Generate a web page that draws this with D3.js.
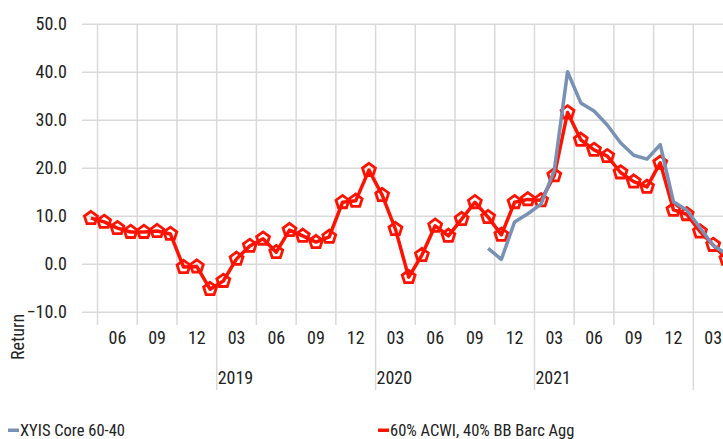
<!DOCTYPE html>
<html>
<head>
<meta charset="utf-8">
<script src="https://cdn.jsdelivr.net/npm/d3@7"></script>
<style>
  body { margin: 0; background: #fff; }
  text { font-family: "Liberation Sans Narrow", "Arial Narrow", "Roboto Condensed", Roboto, sans-serif; fill: #222; }
</style>
</head>
<body>
<div id="chart"></div>
<script>
// categories: month ends, Mar 2018 .. Mar 2022
const months = d3.timeMonth.range(new Date(2018, 2, 1), new Date(2022, 3, 1))

// rolling returns (%)
const benchValues = [
  9.5, 8.7, 7.4, 6.6, 6.6, 6.8, 6.2, -0.7, -0.6, -5.3, -3.6, 1.0, 3.7, 5.2, 2.4, 7.0, 5.8,
  4.5, 5.6, 12.8, 13.1, 19.5, 14.3, 7.2, -2.8, 1.8, 7.9, 5.8, 9.3, 12.8, 9.7, 6.0, 12.8,
  13.4, 13.2, 18.4, 31.5, 25.8, 23.7, 22.4, 19.0, 17.1, 16.0, 21.0, 11.2, 10.3, 6.7, 3.9, 1.0,
]
// XYIS series starts Sep 2020
const fundStart = 30
const fundValues = [
  3.2, 0.9, 8.7, 10.4, 12.4, 19.5, 40.0, 33.5, 31.8, 28.9, 25.2, 22.6, 21.8, 24.8, 12.9,
  11.2, 7.5, 3.8, 2.0,
]
const yTicks = [-10, 0, 10, 20, 30, 40, 50]
const seriesNames = ['XYIS Core 60-40', '60% ACWI, 40% BB Barc Agg']
const colors = ['#7891b5', '#ff1200']

const width = 723
const height = 439
const plot = { left: 82, top: 23.7, bottom: 311.7 }

const svg = d3
  .select('#chart')
  .append('svg')
  .attr('width', width)
  .attr('height', height)

const x = d3
  .scaleBand()
  .domain(months)
  .range([84.3, 84.3 + months.length * 13.24])

const y = d3.scaleLinear().domain([-10, 50]).range([plot.bottom, plot.top])

const cx = (d) => x(d) + x.bandwidth() / 2

// horizontal gridlines + y labels
const yAxis = svg
  .append('g')
  .attr('transform', `translate(${plot.left},0)`)
  .call(
    d3
      .axisLeft(y)
      .tickValues(yTicks)
      .tickFormat(d3.format('.1f'))
      .tickSize(-(width - plot.left))
      .tickPadding(15)
  )
yAxis.select('.domain').remove()
yAxis.selectAll('line').attr('stroke', '#d9d9d9').attr('stroke-width', 1.5)
yAxis.selectAll('text').style('font-size', '18px').attr('fill', '#222')

// vertical gridlines at quarter boundaries (Apr, Jul, Oct, Jan)
const boundaries = months.filter((m, i) => i > 0 && m.getMonth() % 3 === 0)
svg
  .append('g')
  .selectAll('line')
  .data(boundaries)
  .join('line')
  .attr('x1', (d) => x(d))
  .attr('x2', (d) => x(d))
  .attr('y1', plot.top)
  .attr('y2', (d) => (d.getMonth() === 0 ? 390 : 325))
  .attr('stroke', '#d9d9d9')
  .attr('stroke-width', 1.5)

// quarter labels, centred on each 3-month group
const mids = months.filter((m, i) => i > 0 && m.getMonth() % 3 === 1)
svg
  .append('g')
  .selectAll('text')
  .data(mids)
  .join('text')
  .attr('x', (d) => cx(d))
  .attr('y', 344)
  .attr('text-anchor', 'middle')
  .style('font-size', '18px')
  .text((d) => d3.format('02')(d.getMonth() + 2))

// year labels
svg
  .append('g')
  .selectAll('text')
  .data(boundaries.filter((d) => d.getMonth() === 0 && d.getFullYear() < 2022))
  .join('text')
  .attr('x', (d) => x(d) + 1)
  .attr('y', 384)
  .style('font-size', '18px')
  .text((d) => d.getFullYear())

// y axis title
svg
  .append('text')
  .attr('transform', 'translate(24,337) rotate(-90)')
  .attr('text-anchor', 'middle')
  .style('font-size', '18px')
  .text('Return')

const line = d3
  .line()
  .x((d) => cx(d.date))
  .y((d) => y(d.value))

const bench = benchValues.map((v, i) => ({ date: months[i], value: v }))
const fund = fundValues.map((v, i) => ({ date: months[fundStart + i], value: v }))

// benchmark line + pentagon markers
svg
  .append('path')
  .datum(bench)
  .attr('d', line)
  .attr('fill', 'none')
  .attr('stroke', colors[1])
  .attr('stroke-width', 3.5)
  .attr('stroke-linejoin', 'round')

const r = 6.8
const pentagon =
  d3
    .range(5)
    .map((k) => {
      const a = -Math.PI / 2 + (k * 2 * Math.PI) / 5
      return [r * Math.cos(a), r * Math.sin(a)]
    })
    .map((p, k) => (k ? 'L' : 'M') + p[0].toFixed(2) + ',' + p[1].toFixed(2))
    .join('') + 'Z'

svg
  .append('g')
  .selectAll('path')
  .data(bench)
  .join('path')
  .attr('transform', (d) => `translate(${cx(d.date)},${y(d.value)})`)
  .attr('d', pentagon)
  .attr('fill', 'none')
  .attr('stroke', colors[1])
  .attr('stroke-width', 2.8)
  .attr('stroke-linejoin', 'miter')

// fund line on top
svg
  .append('path')
  .datum(fund)
  .attr('d', line)
  .attr('fill', 'none')
  .attr('stroke', colors[0])
  .attr('stroke-width', 3.5)
  .attr('stroke-linejoin', 'round')

// legend
const legendX = [8, 378]
const legend = svg
  .append('g')
  .selectAll('g')
  .data(seriesNames)
  .join('g')
  .attr('transform', (d, i) => `translate(${legendX[i]},0)`)

legend
  .append('rect')
  .attr('x', 0)
  .attr('y', 428.5)
  .attr('width', 11)
  .attr('height', 3.5)
  .attr('fill', (d, i) => colors[i])

legend
  .append('text')
  .attr('x', 12)
  .attr('y', 435.5)
  .style('font-size', '16.5px')
  .text((d) => d)
</script>
</body>
</html>
